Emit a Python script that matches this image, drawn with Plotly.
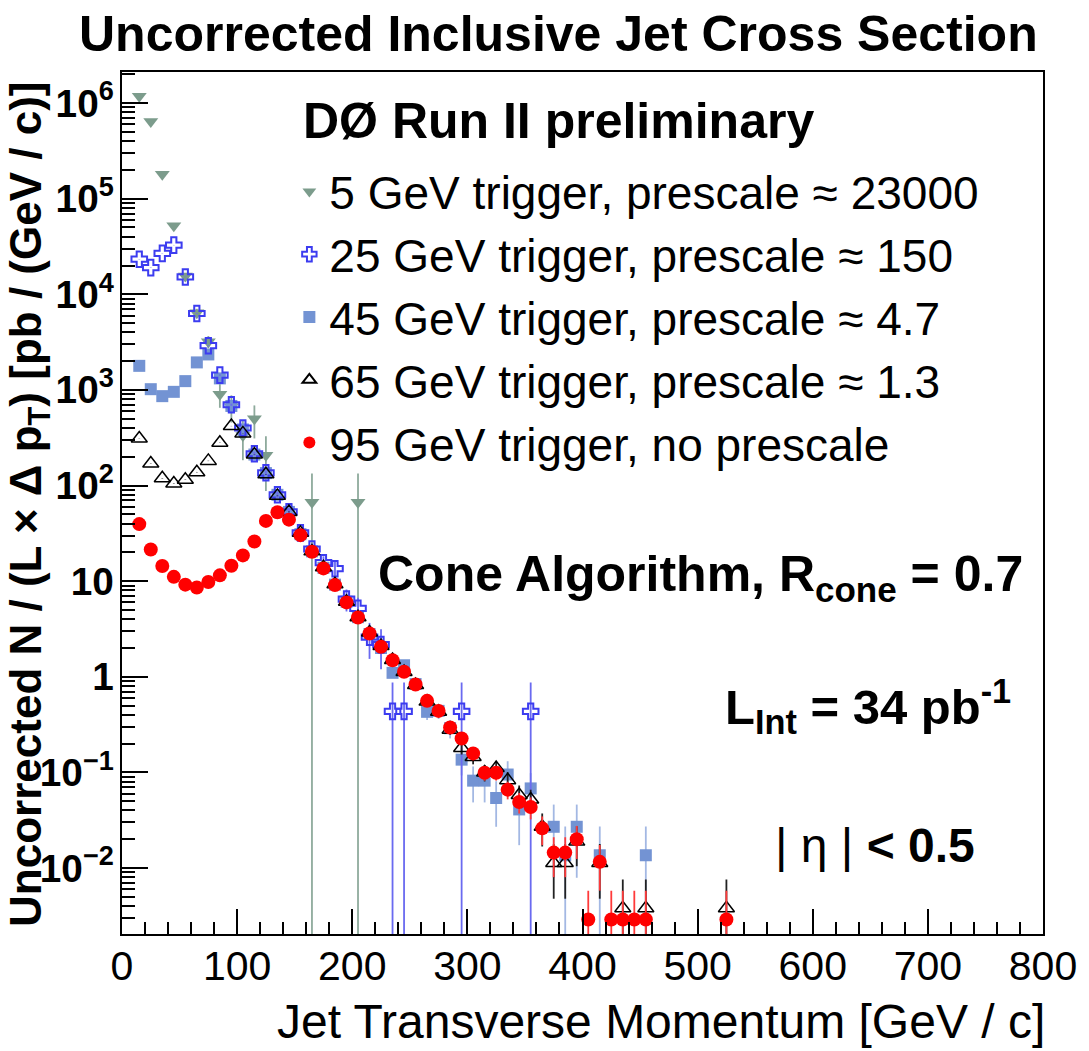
import numpy as np
import plotly.graph_objects as go

# ---------------- data ----------------
# bin centres in GeV/c and uncorrected cross section in pb/(GeV/c)
pt_5 = [15, 25, 35, 45, 55, 65, 75, 85, 95, 105, 115, 125, 165, 205]
xs_5 = [1.18e6, 6.4e5, 1.8e5, 5.2e4, 1.55e4, 6.4e3, 3.2e3, 900, 667, 333, 500, 208, 67, 67]

pt_25 = [15, 25, 35, 45, 55, 65, 75, 85, 95, 105, 115, 125, 135, 145, 155, 165,
         175, 185, 195, 205, 215, 225, 235, 245, 295, 355]
xs_25 = [2.33e4, 1.9e4, 2.68e4, 3.27e4, 1.52e4, 6.3e3, 2.9e3, 1.43e3, 700, 400, 215, 136,
         80, 53, 32, 21.7, 15.6, 13.5, 6.5, 5.2, 2.6, 2.17, 0.435, 0.435, 0.435, 0.435]

pt_45 = [15, 25, 35, 45, 55, 65, 75, 85, 95, 105, 115, 125, 135, 145, 155, 165, 175,
         185, 195, 205, 215, 225, 235, 245, 255, 265, 275, 285, 295, 305, 315, 325,
         335, 345, 355, 375, 385, 395, 415, 455]
xs_45 = [1786, 1018, 861, 955, 1236, 1940, 2350, 1320, 680, 386, 211, 135, 80, 53, 31,
         20.5, 13.8, 9.2, 6.1, 4.2, 2.8, 2.0, 1.1, 1.32, 0.84, 0.43, 0.44, 0.29, 0.136,
         0.082, 0.082, 0.054, 0.095, 0.041, 0.068, 0.027, 0.0136, 0.027, 0.0136, 0.0136]

pt_65 = [15, 25, 35, 45, 55, 65, 75, 85, 95, 105, 115, 125, 135, 145, 155, 165, 175,
         185, 195, 205, 215, 225, 235, 245, 255, 265, 275, 285, 295, 305, 315, 325,
         335, 345, 355, 365, 375, 385, 395, 415, 435, 455, 525]
xs_65 = [310, 170, 119, 105, 115, 138, 181, 280, 419, 351, 211, 131, 78, 53, 32, 20.5,
         14, 9.3, 6.1, 4.2, 2.9, 2.1, 1.5, 1.12, 0.82, 0.55, 0.43, 0.28, 0.18, 0.145,
         0.1, 0.111, 0.083, 0.058, 0.052, 0.027, 0.0113, 0.0113, 0.0189, 0.0113,
         0.0038, 0.0038, 0.0038]

pt_95 = [15, 25, 35, 45, 55, 65, 75, 85, 95, 105, 115, 125, 135, 145, 155, 165, 175,
         185, 195, 205, 215, 225, 235, 245, 255, 265, 275, 285, 295, 305, 315, 325,
         335, 345, 355, 365, 375, 385, 395, 405, 415, 425, 435, 445, 455, 525]
xs_95 = [39.5, 21.4, 14.4, 11.1, 9.2, 8.6, 9.8, 11.5, 14.5, 18.6, 26, 42.7, 52.5, 44,
         30.3, 20.3, 13.6, 9.1, 6.0, 4.17, 2.84, 2.06, 1.49, 1.13, 0.83, 0.56, 0.44,
         0.295, 0.226, 0.158, 0.099, 0.099, 0.066, 0.049, 0.0435, 0.026, 0.0145,
         0.0145, 0.020, 0.0029, 0.0116, 0.0029, 0.0029, 0.0029, 0.0029, 0.0029]

# single-event level of each trigger
one_event = {"5": 66.7, "25": 0.435, "45": 0.0136, "65": 0.0038, "95": 0.0029}

names = {
    "5": "5 GeV trigger, prescale \u2248 23000",
    "25": "25 GeV trigger, prescale \u2248 150",
    "45": "45 GeV trigger, prescale \u2248 4.7",
    "65": "65 GeV trigger, prescale \u2248 1.3",
    "95": "95 GeV trigger, no prescale",
}


def stat_err(values, level):
    v = np.asarray(values, float)
    n = np.maximum(1, np.round(v / level))
    return v / np.sqrt(n)


FONT = "Liberation Sans, Arial, Helvetica, sans-serif"

fig = go.Figure()

series = [
    # key, x, y, symbol, size, marker colour, line colour, line width, err colour, rank
    ("5", pt_5, xs_5, "triangle-down", 13, "#7c9c8c", "#7c9c8c", 0, "#8eaa9c", 1),
    ("45", pt_45, xs_45, "square", 12, "#7393d3", "#7393d3", 0, "#a3b8e3", 3),
    ("25", pt_25, xs_25, "cross-open", 13, "#3c3cf0", "#3c3cf0", 2, "#6a6af0", 2),
    ("65", pt_65, xs_65, "triangle-up-open", 14, "black", "black", 1.5, "#222222", 4),
    ("95", pt_95, xs_95, "circle", 14, "#ff0000", "#ff0000", 0, "#ff3a3a", 5),
]

for key, x, y, sym, size, mcol, lcol, lw, ecol, rank in series:
    fig.add_trace(go.Scatter(
        x=x, y=y, mode="markers", name=names[key], legendrank=rank,
        marker=dict(symbol=sym, size=size, color=mcol,
                    line=dict(color=lcol, width=lw)),
        error_y=dict(type="data", array=stat_err(y, one_event[key]),
                     symmetric=True, color=ecol, thickness=1.8, width=0),
    ))

L, R, T, B = 122, 37, 72, 117
W, H = 1089, 1051
pw, ph = W - L - R, H - T - B


def px(xp):
    return (xp - L) / pw


def py(yp):
    return (H - B - yp) / ph


annotations = [
    dict(text="<b>Uncorrected Inclusive Jet Cross Section</b>", x=px(563), y=py(34),
         xanchor="center", yanchor="middle", font=dict(size=50)),
    dict(text="<b>D\u00d8 Run II preliminary</b>", x=px(303), y=py(121),
         xanchor="left", yanchor="middle", font=dict(size=50)),
    dict(text="<b>Cone Algorithm, R<sub>cone</sub> = 0.7</b>", x=px(1034), y=py(577),
         xanchor="right", yanchor="middle", font=dict(size=50)),
    dict(text="<b>L<sub>Int</sub> = 34 pb<sup>-1</sup></b>", x=px(1022), y=py(706),
         xanchor="right", yanchor="middle", font=dict(size=49)),
    dict(text="| \u03b7 | <b>&lt; 0.5</b>", x=px(985), y=py(845),
         xanchor="right", yanchor="middle", font=dict(size=48)),
    dict(text="Jet Transverse Momentum [GeV / c]", x=px(1056), y=py(1021),
         xanchor="right", yanchor="middle", font=dict(size=48)),
    dict(text="<b>Uncorrected N / (L \u00d7 \u0394 p<sub>T</sub>) [pb / (GeV / c)]</b>",
         x=px(28), y=py(504), textangle=-90, xanchor="center", yanchor="middle",
         font=dict(size=44)),
]
for a in annotations:
    a.update(xref="paper", yref="paper", showarrow=False)
    a["font"].update(family=FONT, color="black")

fig.update_layout(
    width=W, height=H,
    margin=dict(l=L, r=R, t=T, b=B, pad=0),
    paper_bgcolor="white", plot_bgcolor="white",
    font=dict(family=FONT, color="black"),
    annotations=annotations,
    showlegend=True,
    legend=dict(x=px(291), y=py(155), xanchor="left", yanchor="top",
                bgcolor="rgba(0,0,0,0)", borderwidth=0,
                font=dict(family=FONT, size=46, color="black"),
                itemsizing="constant", traceorder="normal"),
)

fig.update_xaxes(
    range=[0, 800], showline=True, linecolor="black", linewidth=2, mirror=True,
    ticks="inside", ticklen=25, tickwidth=1.5, tickcolor="black",
    tick0=0, dtick=100, showgrid=False, zeroline=False,
    minor=dict(dtick=20, ticks="inside", ticklen=12, tickwidth=1.5, tickcolor="black",
               showgrid=False),
    tickfont=dict(family=FONT, size=41, color="black"),
    ticklabelstandoff=-5,
)
fig.update_yaxes(
    type="log", range=[-2.69, 6.325], showline=True, linecolor="black", linewidth=2,
    mirror=True, ticks="inside", ticklen=26, tickwidth=1.5, tickcolor="black",
    dtick=1, exponentformat="power", showgrid=False, zeroline=False,
    minor=dict(dtick="D1", ticks="inside", ticklen=13, tickwidth=1.5, tickcolor="black",
               showgrid=False),
    tickfont=dict(family=FONT, size=31, color="black", weight="bold"),
)

fig.write_html("out.html")
